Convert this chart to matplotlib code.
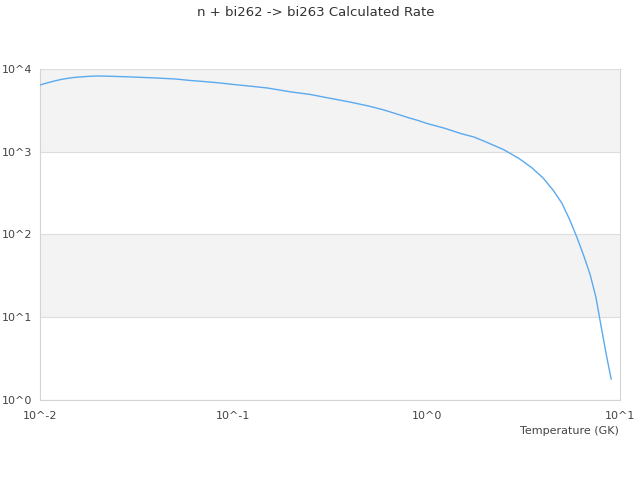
import matplotlib
matplotlib.use("Agg")
import matplotlib.pyplot as plt
from matplotlib.ticker import FixedLocator, FixedFormatter

# temperature grid (GK) and rate
temperature = [0.01, 0.011, 0.012, 0.013, 0.014, 0.015, 0.016, 0.018, 0.02,
               0.025, 0.03, 0.04, 0.05, 0.06, 0.07, 0.08, 0.09,
               0.1, 0.12, 0.15, 0.2, 0.25, 0.3, 0.4, 0.5, 0.6, 0.7, 0.8, 0.9,
               1.0, 1.25, 1.5, 1.75, 2.0, 2.5, 3.0, 3.5, 4.0, 4.5, 5.0, 5.5,
               6.0, 6.5, 7.0, 7.5, 8.0, 8.5, 9.0]
rate = [6410, 6830, 7200, 7510, 7725, 7895, 8000, 8160, 8230,
        8120, 8000, 7780, 7570, 7260, 7060, 6870, 6680,
        6500, 6230, 5890, 5270, 4920, 4530, 3990, 3570, 3200, 2860, 2590, 2390,
        2200, 1910, 1660, 1510, 1330, 1060, 830, 640, 482, 345, 240, 150,
        91, 55, 33, 17.6, 7.6, 3.5, 1.79]

x_ticks = [0.01, 0.1, 1, 10]
x_labels = ["10^-2", "10^-1", "10^0", "10^1"]
y_ticks = [1, 10, 100, 1000, 10000]
y_labels = ["10^0", "10^1", "10^2", "10^3", "10^4"]

fig = plt.figure(figsize=(6.4, 4.8), dpi=100)
ax = fig.add_axes([0.0625, 0.1667, 0.90625, 0.6896])

ax.set_xscale("log")
ax.set_yscale("log")
ax.set_xlim(0.01, 10)
ax.set_ylim(1, 10000)

# alternating bands like the original
for lo, hi in [(1000, 10000), (10, 100)]:
    ax.axhspan(lo, hi, color="#f3f3f3", zorder=0, lw=0)
for yv in y_ticks:
    ax.axhline(yv, color="#dddddd", lw=0.8, zorder=1)

ax.plot(temperature, rate, color="#5aaaf0", lw=1, zorder=3)

ax.xaxis.set_major_locator(FixedLocator(x_ticks))
ax.xaxis.set_major_formatter(FixedFormatter(x_labels))
ax.xaxis.set_minor_locator(FixedLocator([]))
ax.yaxis.set_major_locator(FixedLocator(y_ticks))
ax.yaxis.set_major_formatter(FixedFormatter(y_labels))
ax.yaxis.set_minor_locator(FixedLocator([]))
ax.tick_params(length=0, labelsize=8, colors="#444444")
ax.tick_params(axis="x", pad=8)
ax.tick_params(axis="y", pad=5.5)

for side in ["left", "bottom", "right"]:
    ax.spines[side].set_color("#d4d4d4")
ax.spines["top"].set_visible(False)

fig.text(0.493, 0.975, "n + bi262 -> bi263 Calculated Rate", ha="center", va="center",
         fontsize=9.5, color="#333333")
fig.text(0.967, 0.102, "Temperature (GK)", ha="right", va="center",
         fontsize=8, color="#444444")

fig.savefig("out.png", dpi=100)
